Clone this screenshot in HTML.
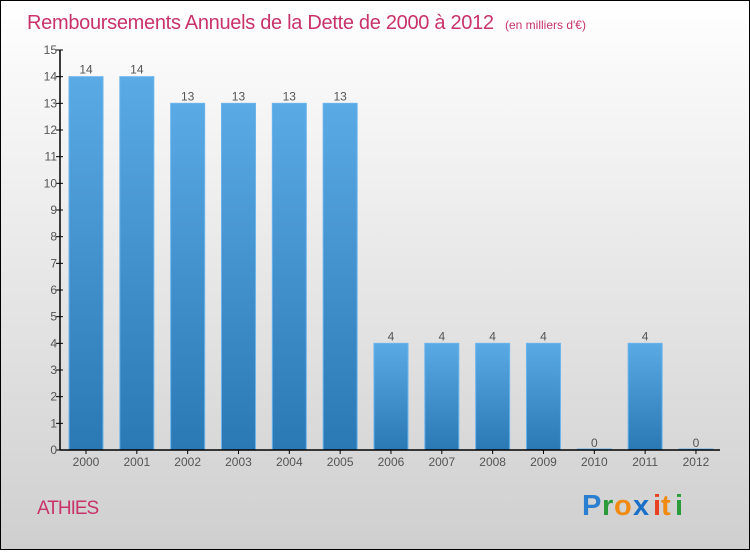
<!DOCTYPE html>
<html><head><meta charset="utf-8"><style>
html,body{margin:0;padding:0}
body{width:750px;height:550px;overflow:hidden;font-family:"Liberation Sans",sans-serif}
</style></head><body>
<svg id="chart" width="750" height="550" xmlns="http://www.w3.org/2000/svg">
<defs>
<linearGradient id="bg" x1="0" y1="0" x2="0" y2="1"><stop offset="0" stop-color="#ffffff"/><stop offset="1" stop-color="#cfcfcf"/></linearGradient>
<linearGradient id="bar" x1="0" y1="0" x2="0" y2="1"><stop offset="0" stop-color="#5aaae6"/><stop offset="1" stop-color="#2a78b4"/></linearGradient>
</defs>
<rect x="0.5" y="0.5" width="749" height="549" fill="url(#bg)" stroke="#000"/>
<text x="27" y="29" font-size="20" fill="#c8336a" letter-spacing="-0.3">Remboursements Annuels de la Dette de 2000 à 2012 <tspan font-size="12" dx="6" letter-spacing="0">(en milliers d'€)</tspan></text>
<g id="plot"></g>
<text x="37" y="514" font-size="19" fill="#c8336a" letter-spacing="-1">ATHIES</text>
<g font-size="29" font-weight="bold" font-family="'Liberation Sans',sans-serif">
<text x="582" y="515" fill="#2a7fd0">P</text><text x="602" y="515" fill="#2a9a3a">r</text><text x="614" y="515" fill="#f08a10">o</text><text x="633" y="515" fill="#1a6fc8">x</text><text x="653" y="515" fill="#e84020">i</text><text x="661" y="515" fill="#f08a10">t</text><text x="675" y="515" fill="#2a9a3a">i</text>
</g>
</svg>
<script>
const years=["2000","2001","2002","2003","2004","2005","2006","2007","2008","2009","2010","2011","2012"];
const values=[14,14,13,13,13,13,4,4,4,4,0,4,0];
const yTicks=[0,1,2,3,4,5,6,7,8,9,10,11,12,13,14,15];
const NS="http://www.w3.org/2000/svg";
const g=document.getElementById('plot');
const x0=60,x1=720,yTop=50,yBot=450,yMax=15;
const y=v=>yBot-(v/yMax)*(yBot-yTop);
const step=50.83, first=86, bw=34;
const xc=i=>first+i*step;
function mk(t,a){const e=document.createElementNS(NS,t);for(const k in a)e.setAttribute(k,a[k]);g.appendChild(e);return e;}
values.forEach((v,i)=>{
 const h=Math.max(yBot-y(v),1);
 const r=mk('rect',{x:xc(i)-bw/2,y:yBot-h,width:bw,height:h,fill:'url(#bar)',stroke:'#6ab4ec','stroke-width':1});
 
 
 const t=mk('text',{x:xc(i),y:y(v)-3,'text-anchor':'middle','font-size':12,fill:'#555'});
 t.textContent=v;
 
 
 const xl=mk('text',{x:xc(i),y:466,'text-anchor':'middle','font-size':12,fill:'#555'});
 xl.textContent=years[i];
 
 
 const tk=mk('line',{x1:xc(i),x2:xc(i),y1:yBot,y2:yBot+4,stroke:'#000'});
 
 
});
yTicks.forEach(v=>{
 const tk=mk('line',{x1:x0-4,x2:x0+3,y1:y(v),y2:y(v),stroke:'#000'});
 
 
 const t=mk('text',{x:x0-3,y:y(v)+4,'text-anchor':'end','font-size':12,fill:'#555'});
 t.textContent=v;
 
 
});
const ya=mk('line',{x1:x0,x2:x0,y1:yTop,y2:yBot,stroke:'#000','stroke-width':1.5});


const xa=mk('line',{x1:x0,x2:x1,y1:yBot,y2:yBot,stroke:'#000','stroke-width':1.5});


</script>
</body></html>
